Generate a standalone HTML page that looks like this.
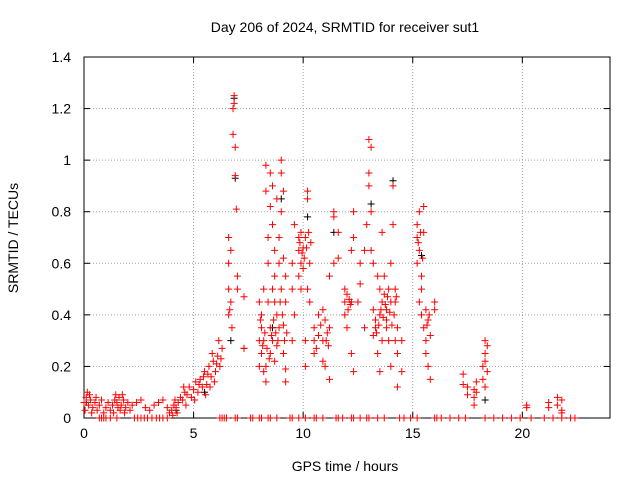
<!DOCTYPE html>
<html><head><meta charset="utf-8"><style>
html,body{margin:0;padding:0;background:#fff;}
svg{display:block;font-family:"Liberation Sans",sans-serif;}
</style></head><body>
<svg id="chart" width="640" height="480" viewBox="0 0 640 480"></svg>
<script>
const xTicks = [0,5,10,15,20];
const yTicks = [0,0.2,0.4,0.6,0.8,1,1.2,1.4];
const yTickLabels = ["0","0.2","0.4","0.6","0.8","1","1.2","1.4"];
const redPoints = [
[0.0,0.06],[0.1,0.08],[0.15,0.1],[0.2,0.05],[0.3,0.07],[0.4,0.04],[0.5,0.06],[0.6,0.03],[0.7,0.05],[0.8,0.07],[0.9,0.02],[1.0,0.04],[1.1,0.06],[1.2,0.03],[1.3,0.05],[1.4,0.07],[1.5,0.06],[1.6,0.08],[1.7,0.05],[1.8,0.07],[1.9,0.04],[2.0,0.06],[2.1,0.03],[2.2,0.05],[2.4,0.06],[2.6,0.07],[2.8,0.04],[3.0,0.03],[3.2,0.05],[3.4,0.06],[3.6,0.07],[3.8,0.04],[3.9,0.02],[4.0,0.03],[4.1,0.05],[4.2,0.04],[4.3,0.06],[4.4,0.08],[4.5,0.07],[4.6,0.1],[4.7,0.09],[4.8,0.12],[4.9,0.08],[5.0,0.11],[5.1,0.14],[5.2,0.1],[5.3,0.15],[5.4,0.12],[5.5,0.18],[5.6,0.13],[5.7,0.2],[5.8,0.16],[5.9,0.22],[6.0,0.18],[6.1,0.24],[6.2,0.2],[6.3,0.27],
[0.05,0.03],[0.25,0.09],[0.35,0.02],[0.55,0.08],[1.35,0.02],[1.45,0.09],[1.55,0.04],[1.65,0.03],[1.75,0.09],[1.85,0.02],[4.05,0.01],[4.15,0.07],[4.25,0.02],[4.55,0.12],[4.65,0.05],[5.05,0.07],[5.25,0.13],[5.45,0.16],[5.55,0.09],[5.65,0.17],[5.75,0.12],[5.85,0.25],[5.95,0.14],[6.05,0.21],[6.15,0.3],[6.25,0.23],
[6.6,0.4],[6.6,0.5],[6.6,0.6],[6.6,0.7],[6.7,0.45],[6.7,0.65],[6.8,1.1],[6.8,1.2],[6.85,1.25],[6.85,1.22],[6.9,1.05],[6.9,0.94],[6.95,0.81],[7.0,0.5],[7.0,0.55],[7.3,0.47],[7.3,0.27],[6.65,0.42],[6.75,0.35],
[8.0,0.45],[8.0,0.3],[8.0,0.2],[8.1,0.35],[8.1,0.25],[8.1,0.4],[8.2,0.3],[8.2,0.18],[8.2,0.5],[8.3,0.88],[8.3,0.98],[8.3,0.2],[8.3,0.14],[8.4,0.6],[8.4,0.7],[8.4,0.45],[8.5,0.82],[8.5,0.35],[8.5,0.25],[8.5,0.95],[8.6,0.9],[8.6,0.75],[8.6,0.5],[8.6,0.3],[8.7,0.65],[8.7,0.55],[8.7,0.45],[8.7,0.22],[8.8,0.85],[8.8,0.4],[8.8,0.28],[8.9,0.7],[8.9,0.6],[8.9,0.35],[9.0,1.0],[9.0,0.95],[9.0,0.8],[9.0,0.5],[9.1,0.88],[9.1,0.62],[9.1,0.36],[9.1,0.25],[9.2,0.55],[9.2,0.45],[9.2,0.19],[9.2,0.14],[9.5,0.6],[9.5,0.5],[9.5,0.3],[9.6,0.75],[9.6,0.4],[9.8,0.65],[9.8,0.7],[9.8,0.55],[9.9,0.6],[9.9,0.72],[9.9,0.5],[10.0,0.66],[10.0,0.58],[10.1,0.7],[10.1,0.3],[10.1,0.2],[10.2,0.85],[10.2,0.88],[10.2,0.5],[10.3,0.6],[10.3,0.45],
[8.05,0.38],[8.15,0.28],[8.25,0.33],[8.35,0.27],[8.45,0.23],[8.55,0.32],[8.65,0.38],[8.75,0.33],[8.85,0.3],[8.95,0.45],[9.05,0.4],[9.15,0.3],[9.25,0.33],[9.85,0.68],[9.95,0.64],[10.05,0.62],[10.15,0.66],[10.25,0.72],[10.35,0.68],
[10.5,0.3],[10.5,0.25],[10.5,0.35],[10.7,0.4],[10.7,0.32],[10.9,0.42],[10.9,0.3],[10.9,0.22],[11.0,0.38],[11.0,0.2],[11.2,0.35],[11.2,0.15],[11.2,0.55],[11.4,0.8],[11.4,0.78],[11.4,0.6],[11.6,0.72],[11.6,0.62],[11.9,0.45],[11.9,0.5],[11.9,0.4],[12.0,0.48],[12.0,0.35],[12.2,0.45],[12.2,0.25],[12.2,0.65],[12.3,0.8],[12.3,0.7],[12.3,0.18],[12.5,0.45],[12.6,0.6],[12.6,0.52],[12.8,0.35],[12.8,0.65],[12.9,0.75],
[10.6,0.27],[10.8,0.36],[11.05,0.3],[11.1,0.33],[11.15,0.28],[12.05,0.42],[12.1,0.46],[12.15,0.44],
[13.0,0.95],[13.0,1.08],[13.0,0.9],[13.1,1.05],[13.1,0.8],[13.1,0.65],[13.2,0.6],[13.2,0.42],[13.2,0.32],[13.3,0.35],[13.3,0.38],[13.4,0.55],[13.4,0.25],[13.5,0.4],[13.5,0.5],[13.5,0.18],[13.6,0.72],[13.6,0.45],[13.6,0.3],[13.7,0.48],[13.7,0.55],[13.8,0.35],[13.8,0.42],[13.8,0.38],[13.9,0.5],[13.9,0.3],[14.0,0.6],[14.0,0.45],[14.0,0.2],[14.1,0.9],[14.1,0.75],[14.2,0.5],[14.2,0.45],[14.2,0.3],[14.3,0.35],[14.3,0.25],[14.3,0.12],[14.5,0.18],[14.5,0.3],
[13.35,0.33],[13.45,0.36],[13.55,0.42],[13.65,0.39],[13.75,0.44],[13.85,0.47],[13.95,0.41],[14.05,0.36],[14.15,0.4],[14.25,0.47],
[15.2,0.6],[15.2,0.7],[15.2,0.75],[15.3,0.8],[15.3,0.65],[15.3,0.45],[15.4,0.5],[15.4,0.55],[15.4,0.4],[15.5,0.82],[15.5,0.72],[15.5,0.35],[15.6,0.3],[15.6,0.25],[15.6,0.42],[15.7,0.38],[15.7,0.2],[15.8,0.15],[15.8,0.32],[16.0,0.45],[16.0,0.42],[15.25,0.68],[15.35,0.72],[15.45,0.62],[15.65,0.36],[15.75,0.4],
[17.3,0.17],[17.3,0.13],[17.5,0.12],[17.5,0.09],[17.8,0.11],[17.8,0.05],[17.8,0.08],[17.9,0.1],[17.9,0.14],[18.2,0.2],[18.2,0.15],[18.3,0.3],[18.3,0.25],[18.3,0.22],[18.3,0.12],[18.4,0.18],[18.4,0.28],
[20.2,0.05],[20.2,0.04],[21.2,0.06],[21.2,0.04],[21.6,0.08],[21.6,0.05],[21.8,0.07],[21.8,0.03],[21.8,0.02]
];
const zeroHours = [0.7,0.8,0.9,1.0,1.2,1.5,2.3,2.45,2.6,2.75,2.9,3.1,3.3,3.45,3.6,3.8,6.2,6.3,6.4,6.5,6.9,7.0,7.6,7.7,8.0,8.1,8.4,8.5,8.8,9.4,9.5,9.8,10.1,10.5,10.6,10.9,11.5,11.6,11.8,12.2,12.3,12.6,12.9,13.0,13.4,13.7,14.4,14.6,14.9,15.2,16.0,16.1,16.3,16.7,17.1,17.4,18.3,18.7,19.1,19.5,19.9,20.4,21.0,21.4,21.8,22.2,22.4];
const blackPoints = [[0.1,0.06],[4.2,0.03],[5.5,0.1],[6.7,0.3],[6.85,1.24],[6.9,0.93],[7.3,0.27],[8.6,0.35],[9.0,0.85],[10.2,0.78],[11.4,0.72],[13.1,0.83],[14.1,0.92],[15.4,0.63],[18.3,0.07]];

const L=84,R=610,T=57,B=418,XMAX=24,YMAX=1.4;
const sx=v=>L+v/XMAX*(R-L), sy=v=>B-v/YMAX*(B-T);
const svg=document.getElementById('chart');
const NS='http://www.w3.org/2000/svg';
function mk(tag,attrs,parent){const e=document.createElementNS(NS,tag);for(const k in attrs)e.setAttribute(k,attrs[k]);(parent||svg).appendChild(e);return e;}
const grid=mk('g',{});


xTicks.forEach(t=>{
  if(t>0) mk('line',{x1:sx(t),x2:sx(t),y1:T,y2:B,stroke:'#a0a0a0','stroke-dasharray':'1,2'},grid);
  mk('line',{x1:sx(t),x2:sx(t),y1:B,y2:B-6,stroke:'#000'},grid);
  mk('line',{x1:sx(t),x2:sx(t),y1:T,y2:T+6,stroke:'#000'},grid);
  const lab=mk('text',{x:sx(t),y:B+20,'text-anchor':'middle','font-size':'14'});
  
  
  lab.textContent=String(t);
});
yTicks.forEach((t,i)=>{
  if(t>0&&t<YMAX) mk('line',{x1:L,x2:R,y1:sy(t),y2:sy(t),stroke:'#a0a0a0','stroke-dasharray':'1,2'},grid);
  mk('line',{x1:L,x2:L+6,y1:sy(t),y2:sy(t),stroke:'#000'},grid);
  mk('line',{x1:R,x2:R-6,y1:sy(t),y2:sy(t),stroke:'#000'},grid);
  const lab=mk('text',{x:L-13,y:sy(t)+5,'text-anchor':'end','font-size':'14'});
  
  
  lab.textContent=yTickLabels[i];
});
const frame=mk('rect',{x:L,y:T,width:R-L,height:B-T,fill:'none',stroke:'#000'});


function plus(g,x,y,c){mk('path',{d:`M${x-3.5},${y}h7M${x},${y-3.5}v7`,stroke:c,'stroke-width':1,fill:'none'},g);}
const gb=mk('g',{});


blackPoints.forEach(p=>plus(gb,sx(p[0]),sy(p[1]),'#000'));
const gr=mk('g',{});


redPoints.forEach(p=>plus(gr,sx(p[0]),sy(p[1]),'#ff0000'));
zeroHours.forEach(h=>plus(gr,sx(h),sy(0),'#ff0000'));
const title=mk('text',{x:345,y:32,'text-anchor':'middle','font-size':'14'});


title.textContent='Day 206 of 2024, SRMTID for receiver sut1';
const xt=mk('text',{x:345,y:471,'text-anchor':'middle','font-size':'14'});


xt.textContent='GPS time / hours';
const yt=mk('text',{x:18,y:238,'text-anchor':'middle','font-size':'14',transform:'rotate(-90 18 238)'});


yt.textContent='SRMTID / TECUs';
</script>
</body></html>
